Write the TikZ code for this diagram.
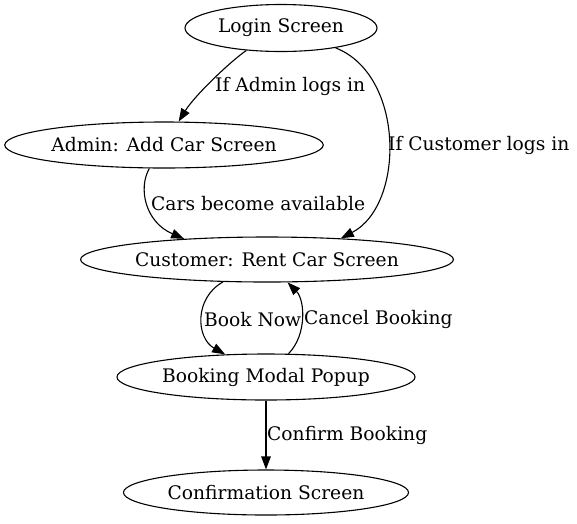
\documentclass[tikz,border=0pt]{standalone}
\usepackage{fontspec}
\setmainfont{DejaVu Serif}
\usetikzlibrary{shapes.geometric,arrows.meta}
\begin{document}
\begin{tikzpicture}[x=1pt,y=-1pt,
  every node/.style={font=\fontsize{18.67}{22}\selectfont},
  state/.style={draw,ellipse,line width=1.1pt,inner sep=0pt},
  lbl/.style={anchor=west,inner sep=0pt},
  edge/.style={line width=1.1pt,-{Triangle[length=13pt,width=9.5pt]}}]
\useasboundingbox (0,0) rectangle (577,523);
\node[state,minimum width=192pt,minimum height=47pt] (login) at (281,28) {Login Screen};
\node[state,minimum width=318pt,minimum height=46pt] (admin) at (164,145) {Admin: Add Car Screen};
\node[state,minimum width=370pt,minimum height=45pt] (cust) at (267,259.5) {Customer: Rent Car Screen};
\node[state,minimum width=298pt,minimum height=46pt] (book) at (266,377) {Booking Modal Popup};
\node[state,minimum width=285pt,minimum height=45pt] (conf) at (266,492.5) {Confirmation Screen};
\draw[edge] (login.213) .. controls (232,60) and (195,95) .. (admin.58.7);
\draw[edge] (login.-20.1) .. controls (405,75) and (405,205) .. (cust.16.5);
\draw[edge] (admin.238.6) .. controls (138,188) and (145,222) .. (cust.166.8);
\draw[edge] (cust.207.5) .. controls (194,298) and (196,338) .. (book.151.7);
\draw[edge] (book.46) .. controls (307,335) and (305,300) .. (cust.-48.2);
\draw[edge] (book) -- (conf);
\node[lbl] (l1) at (215,86.5) {If Admin logs in};
\node[lbl] (l2) at (388,145.5) {If Customer logs in};
\node[lbl] (l3) at (151,203.5) {Cars become available};
\node[lbl] (l4) at (204,319.5) {Book Now};
\node[lbl] (l5) at (304,319.5) {Cancel Booking};
\node[lbl] (l6) at (267,435.5) {Confirm Booking};
\end{tikzpicture}
\end{document}
